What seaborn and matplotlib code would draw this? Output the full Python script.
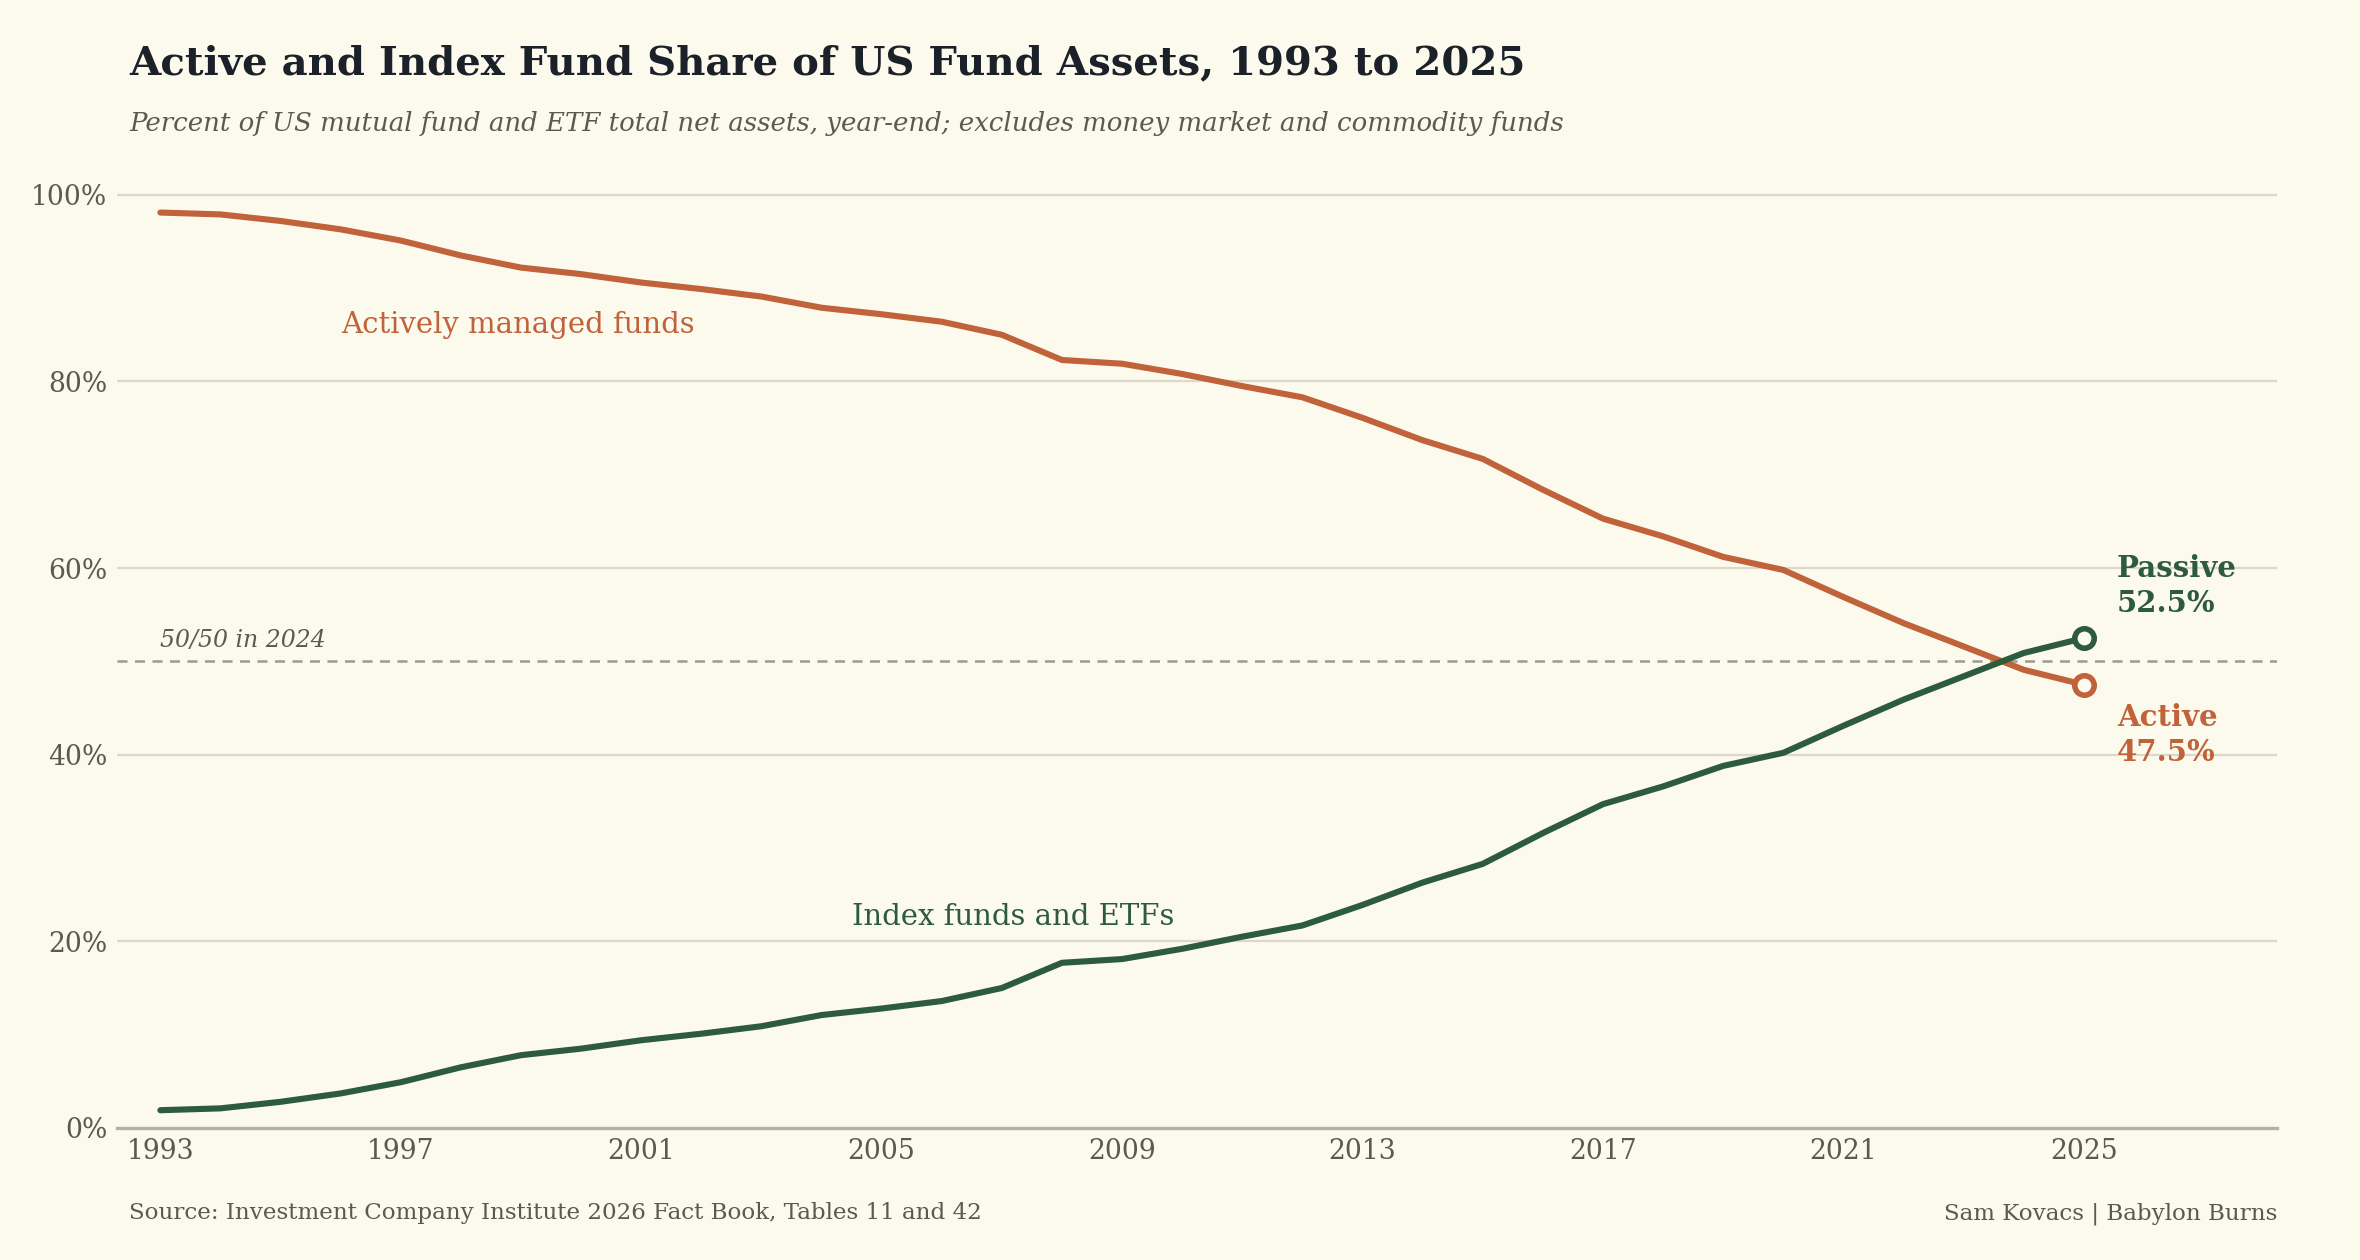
import matplotlib
matplotlib.use("Agg")
import matplotlib.pyplot as plt
import seaborn as sns
import pandas as pd

years = list(range(1993, 2026))
active = [98.1, 97.9, 97.2, 96.3, 95.1, 93.5, 92.2, 91.5, 90.6, 89.9, 89.1, 87.9,
          87.2, 86.4, 85.0, 82.3, 81.9, 80.8, 79.5, 78.3, 76.1, 73.7, 71.7, 68.4,
          65.3, 63.4, 61.2, 59.8, 56.9, 54.1, 51.6, 49.1, 47.5]
passive = [1.9, 2.1, 2.8, 3.7, 4.9, 6.5, 7.8, 8.5, 9.4, 10.1, 10.9, 12.1,
           12.8, 13.6, 15.0, 17.7, 18.1, 19.2, 20.5, 21.7, 23.9, 26.3, 28.3, 31.6,
           34.7, 36.6, 38.8, 40.2, 43.1, 45.9, 48.4, 50.9, 52.5]
series_names = ["Actively managed funds", "Index funds and ETFs"]
yticks = [0, 20, 40, 60, 80, 100]
xticks = [1993, 1997, 2001, 2005, 2009, 2013, 2017, 2021, 2025]

BG = "#fcf9ed"
ORANGE = "#c0623a"
GREEN = "#2d5b3e"
DARK = "#1b2129"
GRAY = "#5b5a52"

df = pd.DataFrame({
    "year": years * 2,
    "share": active + passive,
    "series": [series_names[0]] * len(years) + [series_names[1]] * len(years),
})

sns.set_theme(style="white")
plt.rcParams["font.family"] = ["DejaVu Serif"]

fig = plt.figure(figsize=(11.8, 6.3), dpi=200, facecolor=BG)
ax = fig.add_axes([0.0496, 0.1048, 0.9154, 0.7702])
ax.set_facecolor(BG)

sns.lineplot(data=df, x="year", y="share", hue="series",
             palette={series_names[0]: ORANGE, series_names[1]: GREEN},
             linewidth=2.2, legend=False, ax=ax, zorder=3)

# end markers
ax.plot([years[-1]], [active[-1]], marker="o", ms=7, mfc=BG, mec=ORANGE, mew=2.0, zorder=4)
ax.plot([years[-1]], [passive[-1]], marker="o", ms=7, mfc=BG, mec=GREEN, mew=2.0, zorder=4)

ax.set_xlim(1992.28, 2028.22)
ax.set_ylim(0, 104)
ax.set_yticks(yticks)
ax.set_yticklabels([f"{v}%" for v in yticks])
ax.set_xticks(xticks)
ax.set_xticklabels([str(v) for v in xticks])
ax.tick_params(axis="both", length=0, labelsize=9.6, labelcolor=GRAY, pad=3.5)
ax.set_xlabel("")
ax.set_ylabel("")

for v in yticks[1:]:
    ax.axhline(v, color="#dcd8ca", lw=0.8, zorder=1)
for s in ["left", "right", "top"]:
    ax.spines[s].set_visible(False)
ax.spines["bottom"].set_color("#b3b1a4")
ax.spines["bottom"].set_linewidth(1.2)

ax.axhline(50, color="#9c9a92", lw=0.9, ls=(0, (4, 3)), zorder=2)
ax.text(1993, 51.0, "50/50 in 2024", style="italic", fontsize=8.5, color=GRAY,
        ha="left", va="bottom")

ax.text(1996.0, 86.0, series_names[0], fontsize=10.5, color=ORANGE, ha="left", va="center")
ax.text(2004.5, 22.6, series_names[1], fontsize=10.5, color=GREEN, ha="left", va="center")

ax.text(2025.55, 58.1, f"Passive\n{passive[-1]:.1f}%", fontsize=10.5, fontweight="bold",
        color=GREEN, ha="left", va="center", linespacing=1.28)
ax.text(2025.55, 42.1, f"Active\n{active[-1]:.1f}%", fontsize=10.5, fontweight="bold",
        color=ORANGE, ha="left", va="center", linespacing=1.28)

fig.text(0.0548, 0.941, "Active and Index Fund Share of US Fund Assets, 1993 to 2025",
         fontsize=14.5, fontweight="bold", color=DARK, ha="left", va="baseline")
fig.text(0.0548, 0.896,
         "Percent of US mutual fund and ETF total net assets, year-end; excludes money market and commodity funds",
         fontsize=9.35, style="italic", color=GRAY, ha="left", va="baseline")
fig.text(0.0548, 0.0325, "Source: Investment Company Institute 2026 Fact Book, Tables 11 and 42",
         fontsize=8.27, color=GRAY, ha="left", va="baseline")
fig.text(0.965, 0.0325, "Sam Kovacs | Babylon Burns",
         fontsize=8.3, color=GRAY, ha="right", va="baseline")

fig.savefig("out.png", dpi=200, facecolor=BG)
